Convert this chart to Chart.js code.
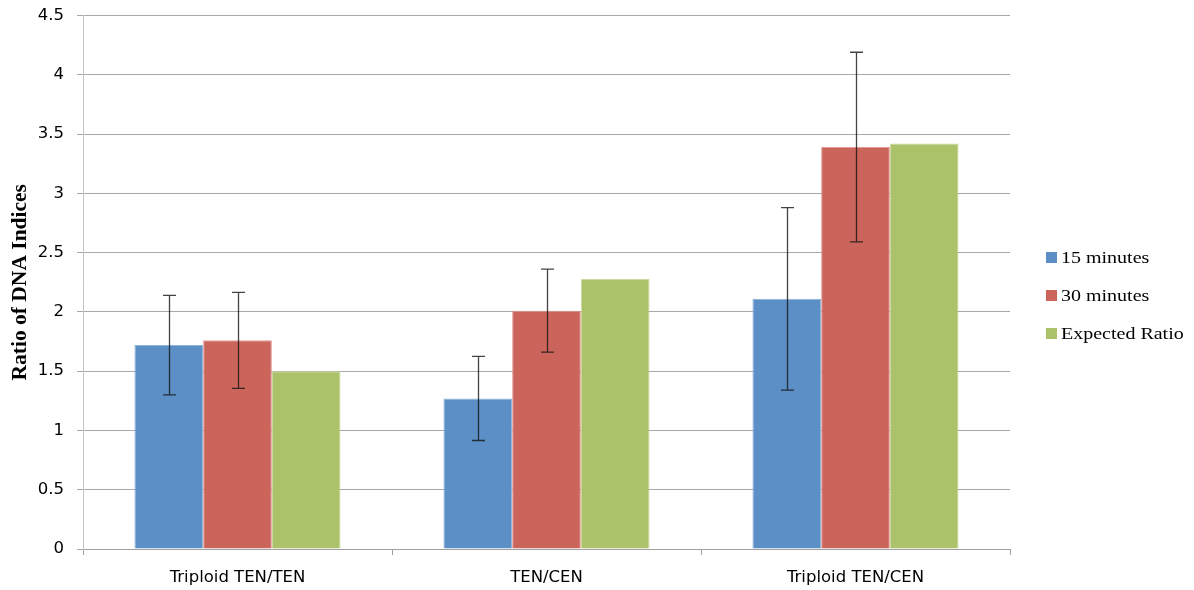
<!DOCTYPE html>
<html>
<head>
<meta charset="utf-8">
<script src="https://cdn.jsdelivr.net/npm/chart.js@4"></script>
<style>
  html, body { margin: 0; padding: 0; background: #fff; }
  #wrap { width: 1194px; height: 590px; }
</style>
</head>
<body>
<div id="wrap"><canvas id="chart"></canvas></div>
<script>
var categories = ['Triploid TEN/TEN', 'TEN/CEN', 'Triploid TEN/CEN'];
var seriesNames = ['15 minutes', '30 minutes', 'Expected Ratio'];
var min15 = [1.72, 1.27, 2.11];
var min30 = [1.76, 2.01, 3.39];
var expected = [1.50, 2.28, 3.42];
// +/- error bar sizes, only for the two measured series
var err15 = [0.42, 0.355, 0.77];
var err30 = [0.405, 0.35, 0.80];
var yMin = 0, yMax = 4.5, yStep = 0.5;

var colors = ['#5b8fc6', '#cb655b', '#abc26b'];
var edges = ['#8fb2da', '#e19a93', '#c8d99a'];

// error bars drawn through the y scale
var errorBars = {
  id: 'errorBars',
  afterDatasetsDraw: function(chart) {
    var ctx = chart.ctx;
    var y = chart.scales.y;
    ctx.save();
    ctx.strokeStyle = 'rgba(20,20,20,0.8)';
    ctx.lineWidth = 1.3;
    chart.data.datasets.forEach(function(ds, i) {
      if (!ds.err) return;
      var meta = chart.getDatasetMeta(i);
      meta.data.forEach(function(bar, j) {
        var v = ds.data[j], e = ds.err[j];
        var top = y.getPixelForValue(v + e);
        var bot = y.getPixelForValue(v - e);
        var x = Math.round(bar.x) + 0.5;
        ctx.beginPath();
        ctx.moveTo(x, top); ctx.lineTo(x, bot);
        ctx.moveTo(x - 6.5, top); ctx.lineTo(x + 6.5, top);
        ctx.moveTo(x - 6.5, bot); ctx.lineTo(x + 6.5, bot);
        ctx.stroke();
      });
    });
    ctx.restore();
  }
};

// legend on the right, text slightly stretched like the original figure
var sideLegend = {
  id: 'sideLegend',
  afterDraw: function(chart) {
    var ctx = chart.ctx;
    var x0 = 1046, y0 = 258, gap = 38;
    ctx.save();
    chart.data.datasets.forEach(function(ds, i) {
      var cy = y0 + i * gap;
      ctx.fillStyle = ds.backgroundColor;
      ctx.fillRect(x0, cy - 6, 11, 11);
      ctx.save();
      ctx.translate(x0 + 15, cy);
      ctx.scale(1.25, 1);
      ctx.fillStyle = '#000';
      ctx.font = '16px "Liberation Serif", "Times New Roman", serif';
      ctx.textBaseline = 'middle';
      ctx.fillText(ds.label, 0, 1);
      ctx.restore();
    });
    ctx.restore();
  }
};

var datasets = [
  { label: seriesNames[0], data: min15, err: err15, backgroundColor: colors[0], borderColor: edges[0] },
  { label: seriesNames[1], data: min30, err: err30, backgroundColor: colors[1], borderColor: edges[1] },
  { label: seriesNames[2], data: expected, backgroundColor: colors[2], borderColor: edges[2] }
];
datasets.forEach(function(d) {
  d.borderWidth = 1;
  d.categoryPercentage = 0.667;
  d.barPercentage = 1.0;
});

var tickFont = { family: '"DejaVu Sans", sans-serif', size: 16.5 };

new Chart(document.getElementById('chart').getContext('2d'), {
  type: 'bar',
  data: { labels: categories, datasets: datasets },
  plugins: [errorBars, sideLegend],
  options: {
    responsive: true,
    maintainAspectRatio: false,
    animation: false,
    devicePixelRatio: 1,
    layout: { padding: { top: 15.5, right: 184, bottom: 0, left: 0 } },
    plugins: { legend: { display: false }, tooltip: { enabled: false } },
    scales: {
      x: {
        grid: { offset: true, drawOnChartArea: false, drawTicks: true, tickLength: 6, color: '#a0a0a0' },
        border: { color: '#a0a0a0' },
        ticks: { color: '#000', font: tickFont, padding: 13, maxRotation: 0 },
        afterFit: function(s) { s.height = 41; }
      },
      y: {
        min: yMin, max: yMax,
        grid: { color: '#a8a8a8', tickLength: 6 },
        border: { color: '#c4c4c4' },
        ticks: {
          stepSize: yStep, color: '#000', font: tickFont, padding: 13,
          callback: function(v) { return String(v); }
        },
        title: {
          display: true, text: 'Ratio of DNA Indices', color: '#000',
          font: { family: '"Liberation Serif", "Times New Roman", serif', size: 21.5, weight: 'bold' },
          padding: { top: 8, bottom: 0 }
        },
        afterFit: function(s) {
          s.width = 83;
          s.paddingTop = 0;
          s.paddingBottom = 0;
        }
      }
    }
  }
});
</script>
</body>
</html>
